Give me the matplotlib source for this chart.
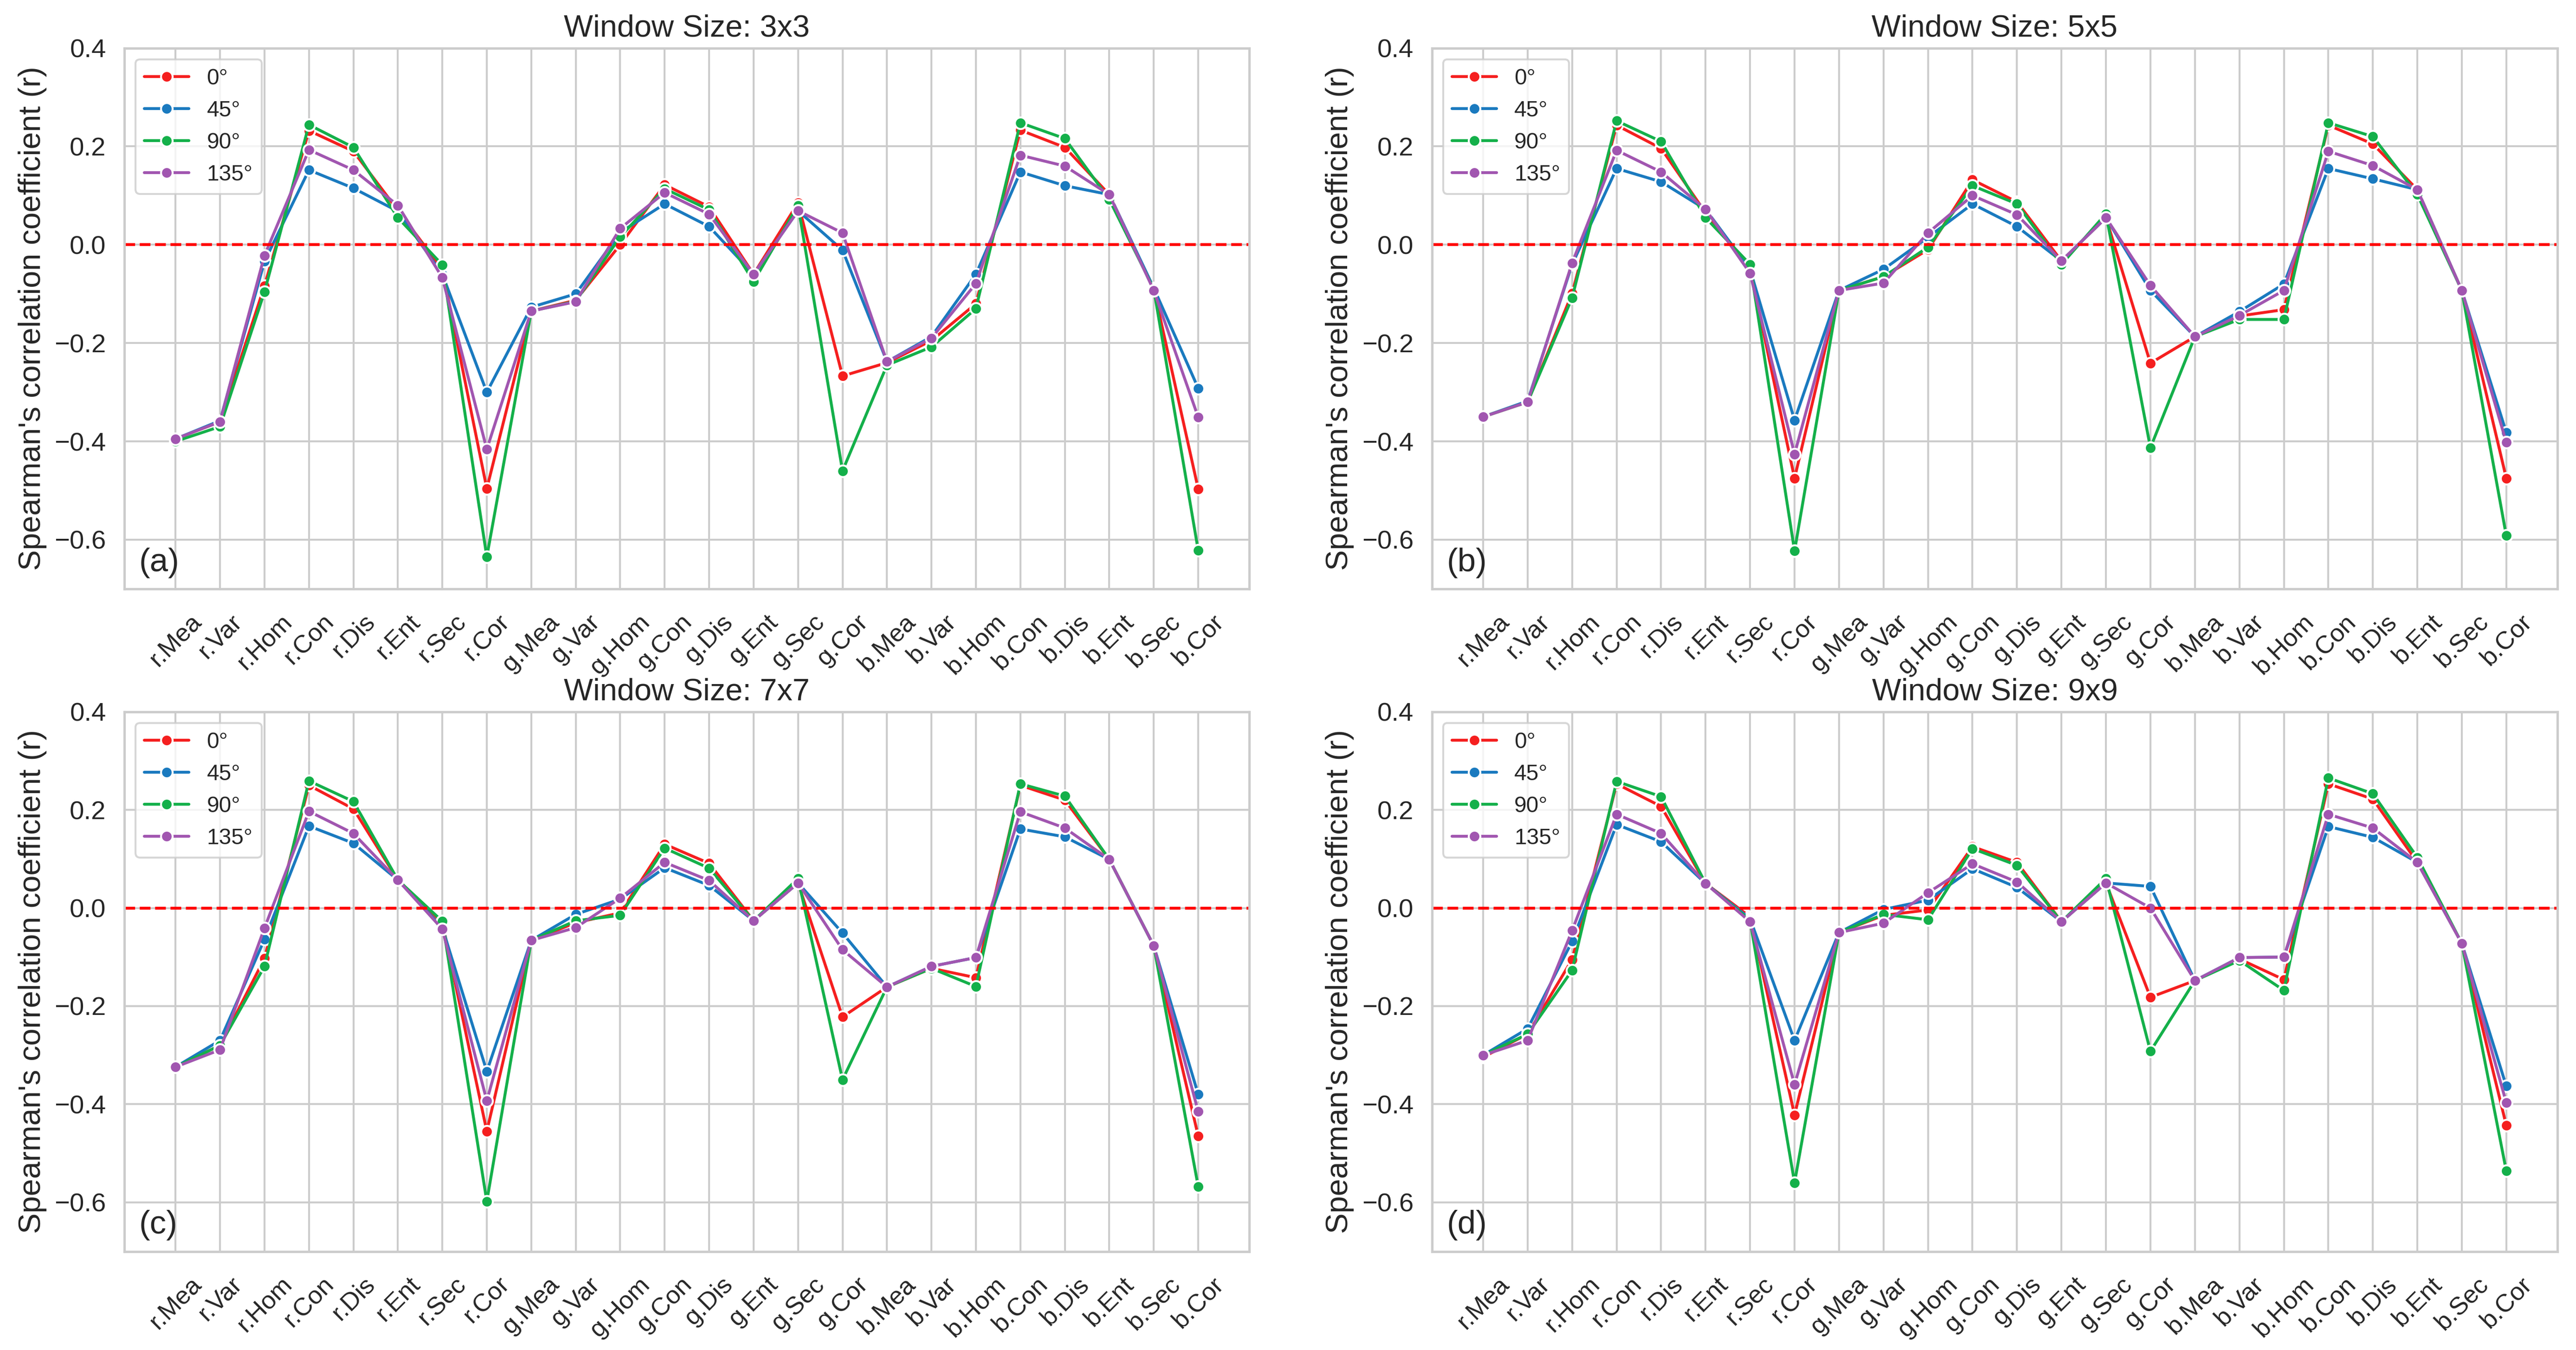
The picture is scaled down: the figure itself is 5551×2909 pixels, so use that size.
import matplotlib
matplotlib.use("Agg")
import matplotlib.pyplot as plt
import seaborn as sns

features = ['r.Mea', 'r.Var', 'r.Hom', 'r.Con', 'r.Dis', 'r.Ent', 'r.Sec', 'r.Cor',
            'g.Mea', 'g.Var', 'g.Hom', 'g.Con', 'g.Dis', 'g.Ent', 'g.Sec', 'g.Cor',
            'b.Mea', 'b.Var', 'b.Hom', 'b.Con', 'b.Dis', 'b.Ent', 'b.Sec', 'b.Cor']
angles = ['0°', '45°', '90°', '135°']
windows = ['3x3', '5x5', '7x7', '9x9']
letters = ['(a)', '(b)', '(c)', '(d)']

# window 3x3
w3_0 = [-0.395, -0.36, -0.084, 0.232, 0.19, 0.07, -0.05, -0.496, -0.135, -0.113, 0.0, 0.122,
        0.077, -0.06, 0.085, -0.267, -0.24, -0.195, -0.12, 0.233, 0.198, 0.102, -0.09, -0.497]
w3_45 = [-0.395, -0.358, -0.034, 0.152, 0.115, 0.068, -0.06, -0.30, -0.127, -0.10, 0.025, 0.083,
         0.037, -0.06, 0.069, -0.011, -0.238, -0.187, -0.06, 0.148, 0.12, 0.102, -0.088, -0.292]
w3_90 = [-0.40, -0.37, -0.096, 0.244, 0.198, 0.055, -0.041, -0.635, -0.135, -0.115, 0.016, 0.114,
         0.071, -0.075, 0.08, -0.46, -0.245, -0.208, -0.13, 0.248, 0.216, 0.092, -0.09, -0.622]
w3_135 = [-0.395, -0.36, -0.022, 0.193, 0.152, 0.08, -0.067, -0.416, -0.135, -0.116, 0.033, 0.106,
          0.062, -0.06, 0.069, 0.024, -0.238, -0.19, -0.079, 0.182, 0.16, 0.102, -0.093, -0.351]

# window 5x5
w5_0 = [-0.35, -0.32, -0.099, 0.243, 0.196, 0.065, -0.05, -0.475, -0.093, -0.065, -0.01, 0.132,
        0.087, -0.033, 0.055, -0.241, -0.187, -0.145, -0.132, 0.243, 0.205, 0.112, -0.093, -0.475]
w5_45 = [-0.35, -0.318, -0.04, 0.155, 0.128, 0.072, -0.05, -0.357, -0.093, -0.05, 0.015, 0.083,
         0.037, -0.033, 0.055, -0.093, -0.187, -0.136, -0.08, 0.155, 0.134, 0.112, -0.093, -0.382]
w5_90 = [-0.35, -0.32, -0.108, 0.252, 0.21, 0.055, -0.04, -0.623, -0.093, -0.065, -0.005, 0.12,
         0.083, -0.04, 0.063, -0.413, -0.187, -0.152, -0.152, 0.248, 0.22, 0.102, -0.093, -0.592]
w5_135 = [-0.35, -0.32, -0.037, 0.192, 0.148, 0.072, -0.058, -0.426, -0.093, -0.078, 0.024, 0.1,
          0.061, -0.033, 0.055, -0.083, -0.187, -0.144, -0.093, 0.19, 0.161, 0.112, -0.093, -0.402]

# window 7x7
w7_0 = [-0.324, -0.28, -0.103, 0.25, 0.202, 0.057, -0.03, -0.455, -0.066, -0.03, -0.01, 0.13,
        0.091, -0.026, 0.051, -0.222, -0.161, -0.123, -0.142, 0.25, 0.22, 0.099, -0.077, -0.465]
w7_45 = [-0.324, -0.27, -0.064, 0.167, 0.132, 0.057, -0.04, -0.333, -0.066, -0.013, 0.018, 0.082,
         0.046, -0.026, 0.051, -0.051, -0.161, -0.119, -0.101, 0.161, 0.145, 0.099, -0.077, -0.38]
w7_90 = [-0.324, -0.28, -0.119, 0.259, 0.217, 0.057, -0.027, -0.598, -0.066, -0.026, -0.015, 0.122,
         0.081, -0.026, 0.06, -0.35, -0.161, -0.123, -0.16, 0.253, 0.228, 0.099, -0.077, -0.568]
w7_135 = [-0.324, -0.289, -0.041, 0.197, 0.152, 0.057, -0.043, -0.393, -0.066, -0.04, 0.02, 0.093,
          0.056, -0.026, 0.051, -0.085, -0.161, -0.119, -0.101, 0.196, 0.163, 0.099, -0.077, -0.415]

# window 9x9
w9_0 = [-0.304, -0.257, -0.105, 0.253, 0.207, 0.05, -0.018, -0.422, -0.05, -0.015, -0.004, 0.125,
        0.093, -0.028, 0.051, -0.182, -0.148, -0.104, -0.146, 0.253, 0.222, 0.093, -0.072, -0.443]
w9_45 = [-0.3, -0.246, -0.068, 0.17, 0.135, 0.05, -0.022, -0.27, -0.05, -0.003, 0.016, 0.08,
         0.042, -0.028, 0.051, 0.044, -0.148, -0.101, -0.1, 0.166, 0.144, 0.093, -0.072, -0.363]
w9_90 = [-0.3, -0.257, -0.127, 0.258, 0.227, 0.05, -0.025, -0.56, -0.05, -0.013, -0.024, 0.121,
         0.087, -0.028, 0.06, -0.292, -0.148, -0.107, -0.168, 0.265, 0.233, 0.103, -0.072, -0.536]
w9_135 = [-0.3, -0.27, -0.046, 0.191, 0.152, 0.05, -0.028, -0.36, -0.05, -0.031, 0.031, 0.09,
          0.053, -0.028, 0.051, 0.0, -0.148, -0.101, -0.1, 0.191, 0.163, 0.093, -0.072, -0.397]

series = [[w3_0, w3_45, w3_90, w3_135],
          [w5_0, w5_45, w5_90, w5_135],
          [w7_0, w7_45, w7_90, w7_135],
          [w9_0, w9_45, w9_90, w9_135]]

colors = ['#f51f1f', '#1a7abf', '#14b04a', '#a156b0']

sns.set_theme(style='whitegrid')
plt.rcParams['font.family'] = ['Liberation Sans', 'DejaVu Sans']

fig = plt.figure(figsize=(5551 / 300, 2909 / 300), dpi=300)
positions = [[0.0483, 0.5638, 0.4367, 0.4006],
             [0.5559, 0.5638, 0.4369, 0.4006],
             [0.0483, 0.0730, 0.4367, 0.3998],
             [0.5559, 0.0730, 0.4369, 0.3998]]

for i in range(4):
    ax = fig.add_axes(positions[i])
    for vals, ang, c in zip(series[i], angles, colors):
        ax.plot(features, vals, marker='o', color=c, lw=1.5, ms=6,
                mec='white', mew=1, label=ang)
    ax.axhline(0, color='red', linestyle='--', lw=1.5)
    ax.set_ylim(-0.7, 0.4)
    ax.set_yticks([-0.6, -0.4, -0.2, 0.0, 0.2, 0.4])
    ax.set_title('Window Size: ' + windows[i], fontsize=16)
    ax.set_ylabel("Spearman's correlation coefficient (r)", fontsize=16)
    ax.tick_params(axis='x', labelsize=13, rotation=45, pad=5)
    ax.tick_params(axis='y', labelsize=13.5)
    ax.legend(loc='upper left', fontsize=11.5)
    ax.text(0.013, 0.02, letters[i], transform=ax.transAxes, fontsize=17,
            ha='left', va='bottom')

fig.savefig('out.png', dpi=300)
